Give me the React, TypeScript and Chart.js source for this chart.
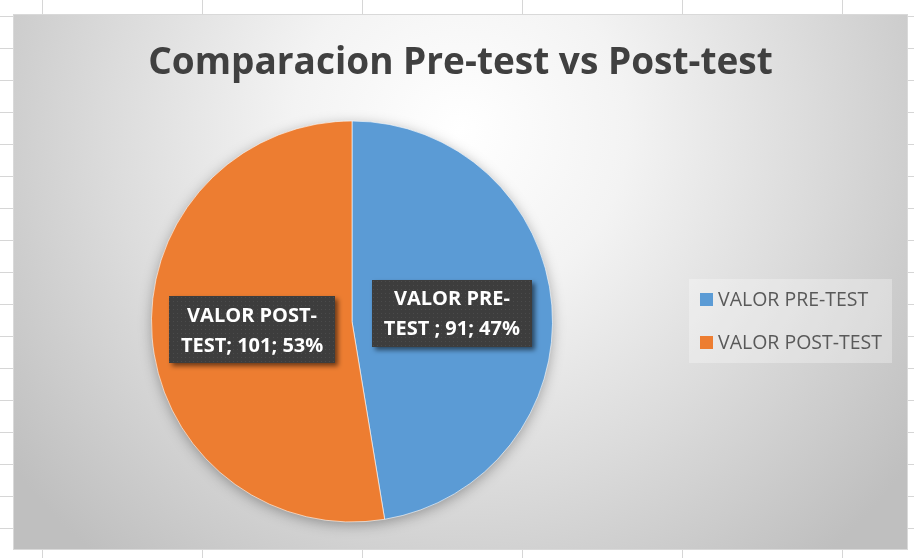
import React, { useEffect, useRef } from "react";
import { Chart, registerables } from "chart.js";
Chart.register(...registerables);

const categories = ["VALOR PRE-TEST ", "VALOR POST-TEST"];
const values = [91, 101];
const sliceColors = ["#5B9BD5", "#ED7D31"];
const chartTitle = "Comparacion Pre-test vs Post-test";

const W = 914;
const H = 558;
const AREA = { l: 13, t: 14, r: 908, b: 550 };
const FONT = "'Open Sans', 'Liberation Sans', sans-serif";

function makePattern(ctx: CanvasRenderingContext2D) {
  const c = document.createElement("canvas");
  c.width = 4;
  c.height = 4;
  const p = c.getContext("2d")!;
  p.fillStyle = "#3d3d3d";
  p.fillRect(0, 0, 4, 4);
  p.fillStyle = "#4b4b4b";
  p.fillRect(1, 1, 1, 1);
  return ctx.createPattern(c, "repeat") || "#3d3d3d";
}

const backgroundPlugin = {
  id: "sheetBackground",
  beforeDraw(chart: any) {
    const ctx: CanvasRenderingContext2D = chart.ctx;
    ctx.save();
    ctx.fillStyle = "#ffffff";
    ctx.fillRect(0, 0, W, H);
    ctx.strokeStyle = "#d6d6d6";
    ctx.lineWidth = 1;
    ctx.beginPath();
    for (let x = 42; x < W; x += 160) {
      ctx.moveTo(x + 0.5, 0);
      ctx.lineTo(x + 0.5, H);
    }
    for (let y = 16; y < H; y += 32) {
      ctx.moveTo(0, y + 0.5);
      ctx.lineTo(W, y + 0.5);
    }
    ctx.stroke();

    // chart area with radial gradient
    const g = ctx.createRadialGradient(460, 130, 0, 460, 130, 560);
    g.addColorStop(0, "#ffffff");
    g.addColorStop(0.3, "#f3f3f3");
    g.addColorStop(0.62, "#dcdcdc");
    g.addColorStop(1, "#bfbfbf");
    ctx.fillStyle = g;
    ctx.fillRect(AREA.l, AREA.t, AREA.r - AREA.l, AREA.b - AREA.t);
    ctx.strokeStyle = "#d9d9d9";
    ctx.strokeRect(AREA.l + 0.5, AREA.t + 0.5, AREA.r - AREA.l - 1, AREA.b - AREA.t - 1);

    // title
    ctx.fillStyle = "#404040";
    ctx.font = `bold 37px ${FONT}`;
    ctx.textAlign = "center";
    ctx.textBaseline = "alphabetic";
    ctx.fillText(chartTitle, (AREA.l + AREA.r) / 2, 74);
    ctx.restore();
  },
  beforeDatasetsDraw(chart: any) {
    const arc = chart.getDatasetMeta(0).data[0];
    if (!arc) return;
    const { x, y, outerRadius } = arc.getProps(["x", "y", "outerRadius"], true);
    const ctx: CanvasRenderingContext2D = chart.ctx;
    ctx.save();
    ctx.shadowColor = "rgba(0,0,0,0.35)";
    ctx.shadowBlur = 14;
    ctx.shadowOffsetY = 3;
    ctx.fillStyle = "#999999";
    ctx.beginPath();
    ctx.arc(x, y, outerRadius - 1, 0, Math.PI * 2);
    ctx.fill();
    ctx.restore();
  },
  afterDatasetsDraw(chart: any) {
    const ctx: CanvasRenderingContext2D = chart.ctx;
    const meta = chart.getDatasetMeta(0);
    const data: number[] = chart.data.datasets[0].data;
    const labels: string[] = chart.data.labels;
    const total = data.reduce((a, b) => a + b, 0);
    const pattern = makePattern(ctx);
    meta.data.forEach((arc: any, i: number) => {
      const { x, y, startAngle, endAngle, outerRadius } = arc.getProps(
        ["x", "y", "startAngle", "endAngle", "outerRadius"],
        true
      );
      const mid = (startAngle + endAngle) / 2;
      const cx = x + Math.cos(mid) * outerRadius * 0.5;
      const cy = y + Math.sin(mid) * outerRadius * 0.5;
      const full = `${labels[i]}; ${data[i]}; ${Math.round((data[i] / total) * 100)}%`;
      const cut = full.indexOf("-") + 1;
      const lines = [full.slice(0, cut), full.slice(cut)];
      ctx.save();
      ctx.font = `bold 20px ${FONT}`;
      const tw = Math.max(...lines.map((l) => ctx.measureText(l).width));
      const bw = tw + 24;
      const bh = 67;
      ctx.shadowColor = "rgba(0,0,0,0.55)";
      ctx.shadowBlur = 5;
      ctx.shadowOffsetX = 3;
      ctx.shadowOffsetY = 3;
      ctx.fillStyle = pattern as any;
      ctx.fillRect(Math.round(cx - bw / 2), Math.round(cy - bh / 2), Math.round(bw), bh);
      ctx.shadowColor = "transparent";
      ctx.fillStyle = "#ffffff";
      ctx.textAlign = "center";
      ctx.textBaseline = "alphabetic";
      ctx.fillText(lines[0], cx, cy - 8);
      ctx.fillText(lines[1], cx, cy + 22);
      ctx.restore();
    });
  },
  afterDraw(chart: any) {
    const ctx: CanvasRenderingContext2D = chart.ctx;
    const labels: string[] = chart.data.labels;
    const colors: string[] = chart.data.datasets[0].backgroundColor;
    ctx.save();
    ctx.fillStyle = "rgba(255,255,255,0.3)";
    ctx.fillRect(689, 279, 203, 84);
    ctx.font = `19.5px ${FONT}`;
    ctx.textAlign = "left";
    ctx.textBaseline = "alphabetic";
    labels.forEach((lab, i) => {
      const base = 306 + i * 42.5;
      ctx.fillStyle = colors[i];
      ctx.fillRect(700, Math.round(base - 13), 13, 13);
      ctx.fillStyle = "#595959";
      ctx.fillText(lab.trim(), 718, base);
    });
    ctx.restore();
  },
};

export default function App() {
  const ref = useRef<HTMLCanvasElement>(null);
  useEffect(() => {
    const chart = new Chart(ref.current!, {
      type: "pie",
      data: {
        labels: categories,
        datasets: [
          {
            data: values,
            backgroundColor: sliceColors,
            borderColor: "rgba(255,255,255,0.6)",
            borderWidth: 1,
          },
        ],
      },
      options: {
        animation: false,
        responsive: false,
        layout: { padding: { left: 151, right: 361, top: 120, bottom: 35 } },
        plugins: {
          legend: { display: false },
          title: { display: false },
          tooltip: { enabled: false },
        },
      },
      plugins: [backgroundPlugin],
    } as any);
    return () => chart.destroy();
  }, []);
  return (
    <div style={{ position: "fixed", left: 0, top: 0, width: W, height: H }}>
      <canvas ref={ref} width={W} height={H} style={{ display: "block", width: W, height: H }} />
    </div>
  );
}
